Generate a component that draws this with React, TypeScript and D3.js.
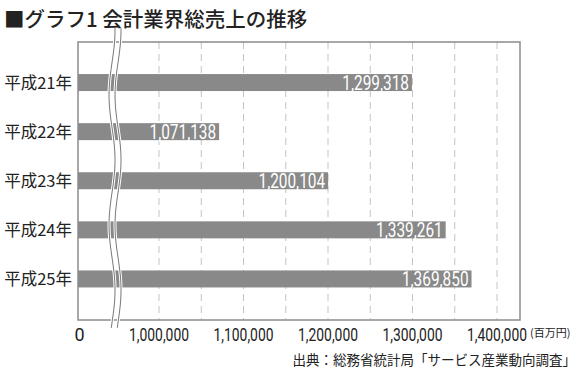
import React from "react";
import * as d3 from "d3";

const title = "■グラフ1 会計業界総売上の推移";
const categories = ["平成21年", "平成22年", "平成23年", "平成24年", "平成25年"];
const values = [1299318, 1071138, 1200104, 1339261, 1369850];
const tickValues = [0, 1000000, 1100000, 1200000, 1300000, 1400000];
const gridValues = [1000000, 1050000, 1100000, 1150000, 1200000, 1250000, 1300000, 1350000, 1400000];
const unitLabel = "(百万円)";
const sourceText = "出典：総務省統計局「サービス産業動向調査」";
const breakValue = 420000;

const W = 580;
const H = 380;
const plot = { left: 78, top: 42, right: 520, bottom: 320 };
const squeeze = 0.77;

const narrow = "Roboto, 'Noto Sans', sans-serif";
const cjk = "'Noto Sans CJK JP', 'Noto Sans', sans-serif";

export default function App() {
  const x = d3
    .scaleLinear()
    .domain([0, 1000000, 1400000])
    .range([plot.left, 159, 497]);
  const y = d3
    .scaleBand<string>()
    .domain(categories)
    .range([58, 303.5])
    .paddingInner(0.654)
    .paddingOuter(0.327);

  const fmt = d3.format(",");
  const bx = x(breakValue);
  const ys = d3.range(28, 329, 2);
  const wave = (off: number) =>
    d3
      .line<number>()
      .x((yy) => bx + off + 3 * Math.cos((2 * Math.PI * (yy - 30)) / 130))
      .y((yy) => yy)
      .curve(d3.curveBasis)(ys) as string;

  return (
    <svg
      width={W}
      height={H}
      style={{ position: "absolute", left: 0, top: 0, background: "#fff" }}
    >
      <text x={4} y={27} fontFamily={cjk} fontSize={20.5} fontWeight={500} fill="#222">
        {title}
      </text>
      {gridValues.map((g) => (
        <line
          key={g}
          x1={x(g)}
          x2={x(g)}
          y1={plot.top}
          y2={plot.bottom}
          stroke="#c4c4c4"
          strokeWidth={1}
          strokeDasharray="7 5"
        />
      ))}
      {categories.map((c, i) => {
        const yy = y(c) as number;
        const bw = y.bandwidth();
        return (
          <g key={c}>
            <rect x={x(0)} y={yy} width={x(values[i]) - x(0)} height={bw} fill="#898989" />
            <text
              transform={`translate(${x(values[i]) - 3},${yy + bw / 2 + 7}) scale(${squeeze},1)`}
              textAnchor="end"
              fontFamily={narrow}
              fontSize={20}
              fill="#fff"
            >
              {fmt(values[i])}
            </text>
            <text
              x={72}
              y={yy + bw / 2 + 6}
              textAnchor="end"
              fontFamily={cjk}
              fontSize={16.5}
              fill="#222"
            >
              {c}
            </text>
          </g>
        );
      })}
      <rect
        x={plot.left}
        y={plot.top}
        width={plot.right - plot.left}
        height={plot.bottom - plot.top}
        fill="none"
        stroke="#8c8c8c"
        strokeWidth={1.5}
      />
      {[0, 6].map((off) => (
        <g key={off}>
          <path d={wave(off)} fill="none" stroke="#fff" strokeWidth={3} />
          <path d={wave(off)} fill="none" stroke="#555" strokeWidth={0.8} />
        </g>
      ))}
      {tickValues.map((t) => (
        <text
          key={t}
          transform={`translate(${x(t) + (t === 0 ? 1.5 : 0)},341) scale(${t === 0 ? 1 : squeeze},1)`}
          textAnchor="middle"
          fontFamily={narrow}
          fontSize={18}
          fill="#222"
        >
          {fmt(t)}
        </text>
      ))}
      <text x={530} y={337} textAnchor="start" fontFamily={cjk} fontSize={11} fill="#222">
        {unitLabel}
      </text>
      <text x={576} y={365} textAnchor="end" fontFamily={cjk} fontSize={13.5} fill="#222">
        {sourceText}
      </text>
    </svg>
  );
}
